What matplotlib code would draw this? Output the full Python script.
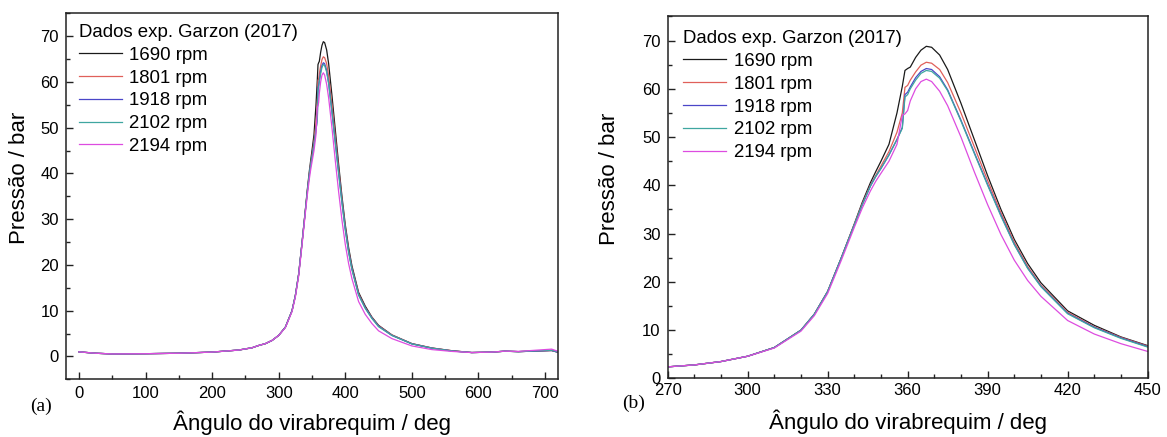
import numpy as np
import matplotlib
matplotlib.use("Agg")
import matplotlib.pyplot as plt
from matplotlib.ticker import MultipleLocator

plt.rcParams['font.family'] = ['Liberation Sans', 'DejaVu Sans']

# crank angle (deg) and pressure (bar)
ang = [0, 25, 50, 100, 150, 200, 240, 260, 270, 280, 290, 300, 310, 320, 325,
       330, 335, 340, 343, 346, 348, 350, 353, 356, 358, 359, 360, 361, 363, 365, 367,
       369, 372, 375, 380, 385, 390, 395, 400, 405, 410, 420, 430, 440, 450,
       470, 500, 530, 560, 590, 620, 640, 660, 690, 710, 720]

p1690 = [1.0, 0.7, 0.55, 0.6, 0.7, 0.95, 1.4, 1.9, 2.4, 2.8, 3.5, 4.6, 6.4, 10.0, 13.3,
         18.0, 24.8, 32.0, 36.5, 40.5, 42.8, 45.0, 48.5, 55.0, 60.5, 63.8, 64.2, 64.5, 66.5, 68.0, 68.8,
         68.6, 67.0, 64.0, 57.0, 49.5, 42.0, 35.0, 28.8, 23.8, 19.8, 14.0, 11.0, 8.6, 6.8,
         4.7, 2.8, 1.85, 1.25, 0.85, 0.95, 1.15, 1.05, 1.2, 1.3, 0.9]
p1801 = [1.0, 0.7, 0.55, 0.6, 0.7, 0.95, 1.4, 1.9, 2.4, 2.8, 3.5, 4.6, 6.4, 10.0, 13.3,
         18.0, 24.8, 31.9, 36.2, 40.0, 42.0, 44.0, 47.0, 51.0, 55.0, 60.3, 60.7, 61.8, 63.5, 64.9, 65.5,
         65.3, 64.0, 61.3, 55.0, 48.0, 41.0, 34.3, 28.2, 23.2, 19.3, 13.7, 10.7, 8.5, 6.7,
         4.7, 2.8, 1.85, 1.25, 0.85, 0.95, 1.15, 1.05, 1.2, 1.3, 0.9]
p1918 = [1.0, 0.7, 0.55, 0.6, 0.7, 0.95, 1.4, 1.9, 2.4, 2.8, 3.5, 4.6, 6.4, 10.0, 13.3,
         18.0, 24.8, 31.8, 36.0, 39.8, 41.8, 43.5, 46.3, 49.5, 52.0, 58.8, 59.3, 60.4, 62.3, 63.6, 64.2,
         64.0, 62.5, 59.8, 53.5, 46.8, 40.2, 33.8, 27.8, 22.9, 19.1, 13.5, 10.6, 8.4, 6.6,
         4.6, 2.75, 1.8, 1.2, 0.85, 0.95, 1.15, 1.05, 1.2, 1.3, 0.9]
p2102 = [1.0, 0.7, 0.55, 0.6, 0.7, 0.95, 1.4, 1.9, 2.4, 2.8, 3.5, 4.6, 6.4, 10.0, 13.3,
         18.0, 24.8, 31.8, 36.0, 39.8, 41.8, 43.5, 46.3, 49.5, 51.8, 58.3, 58.8, 60.0, 61.8, 63.2, 63.8,
         63.6, 62.2, 59.6, 53.3, 46.6, 40.0, 33.6, 27.7, 22.8, 19.0, 13.4, 10.5, 8.3, 6.5,
         4.6, 2.75, 1.8, 1.2, 0.85, 0.95, 1.15, 1.05, 1.25, 1.35, 0.95]
p2194 = [1.0, 0.7, 0.55, 0.6, 0.7, 0.95, 1.4, 1.9, 2.4, 2.8, 3.5, 4.6, 6.3, 9.8, 13.0,
         17.6, 24.3, 31.3, 35.3, 38.8, 40.8, 42.5, 45.0, 48.5, 54.5, 54.8, 55.5, 57.5, 60.0, 61.5, 62.0,
         61.5, 59.5, 56.5, 50.0, 42.8, 36.0, 29.8, 24.5, 20.3, 17.0, 12.0, 9.2, 7.2, 5.6,
         3.9, 2.3, 1.5, 1.1, 0.85, 0.95, 1.15, 1.1, 1.4, 1.6, 1.1]

labels = ['1690 rpm', '1801 rpm', '1918 rpm', '2102 rpm', '2194 rpm']
series = [p1690, p1801, p1918, p2102, p2194]
colors = ['#1a1a1a', '#e0605a', '#4a46c8', '#3fa6a0', '#dd4ce0']

fig = plt.figure(figsize=(11.67, 4.37), dpi=100)
axa = fig.add_axes([0.0563, 0.132, 0.4221, 0.8375])
axb = fig.add_axes([0.5721, 0.134, 0.4113, 0.8285])

for ax in (axa, axb):
    for y, lab, c in zip(series, labels, colors):
        ax.plot(ang, y, color=c, lw=0.9, label=lab)
    ax.tick_params(which='both', direction='in', top=False, right=False,
                   labelsize=12, width=1.0, color='#222222')
    ax.tick_params(which='major', length=5, pad=5)
    ax.tick_params(which='minor', length=3)
    ax.yaxis.set_major_locator(MultipleLocator(10))
    ax.yaxis.set_minor_locator(MultipleLocator(5))
    for s in ax.spines.values():
        s.set_linewidth(1.1)
        s.set_color('#222222')
    ax.set_ylabel('Pressão / bar', fontsize=16)
    ax.set_xlabel('Ângulo do virabrequim / deg', fontsize=16)
    leg = ax.legend(title='Dados exp. Garzon (2017)', frameon=False, fontsize=13.4,
                    title_fontsize=13.4, loc='upper left', borderpad=0,
                    borderaxespad=0, handlelength=2.3, handletextpad=0.4,
                    labelspacing=0.31, alignment='left')

axa.set_xlim(-20, 720)
axa.set_ylim(-5, 75)
axa.xaxis.set_major_locator(MultipleLocator(100))
axa.xaxis.set_minor_locator(MultipleLocator(50))
axa.get_legend().set_bbox_to_anchor((0.027, 0.971))
axa.yaxis.set_label_coords(-0.072, 0.55)
axa.xaxis.set_label_coords(0.5, -0.084)

axb.set_xlim(270, 450)
axb.set_ylim(0, 75)
axb.xaxis.set_major_locator(MultipleLocator(30))
axb.xaxis.set_minor_locator(MultipleLocator(10))
axb.tick_params(axis='x', which='major', pad=3)
axb.get_legend().set_bbox_to_anchor((0.033, 0.962))
axb.yaxis.set_label_coords(-0.1, 0.55)
axb.xaxis.set_label_coords(0.5, -0.087)

fig.text(41 / 1167, 1 - 406 / 437, '(a)', family='Liberation Serif', fontsize=14,
         ha='center', va='center')
fig.text(634 / 1167, 1 - 403 / 437, '(b)', family='Liberation Serif', fontsize=14,
         ha='center', va='center')

fig.savefig('out.png', dpi=100)
